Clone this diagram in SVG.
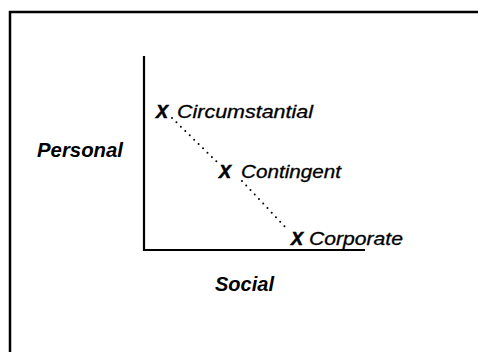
<svg xmlns="http://www.w3.org/2000/svg" width="478" height="352" viewBox="0 0 478 352">
<style>
.frame{fill:none;stroke:#000;stroke-width:2.5}
.axis{fill:none;stroke:#000;stroke-width:2.2}
.dots{fill:none;stroke:#000;stroke-width:2;stroke-linecap:round;stroke-dasharray:0 6.2}
.lbl{font-family:"Liberation Sans",Arial,sans-serif;font-weight:bold;font-style:italic;font-size:20px;fill:#000}
.pt{font-family:"Liberation Sans",Arial,sans-serif;font-style:italic;font-size:18px;fill:#000;stroke:#000;stroke-width:0.3}
.x{font-family:"Liberation Sans",Arial,sans-serif;font-weight:bold;font-style:italic;font-size:18px;fill:#000;stroke:#000;stroke-width:0.6}
</style>
<rect width="478" height="352" fill="#fff"/>
<path class="frame" d="M10,352 V12 H478"/>
<g id="axes">
<path class="axis" d="M144,56 V250 H365"/>
</g>
<g id="connectors">
<line class="dots" x1="172" y1="118" x2="218" y2="163"/>
<line class="dots" x1="242" y1="181" x2="288" y2="230"/>
</g>
<g id="personal"><text class="lbl" x="37" y="157" textLength="86" lengthAdjust="spacingAndGlyphs">Personal</text></g>
<g id="social"><text class="lbl" x="215" y="291" textLength="59" lengthAdjust="spacingAndGlyphs">Social</text></g>
<g id="circumstantial">
<text class="x" x="156" y="118" textLength="12" lengthAdjust="spacingAndGlyphs">X</text>
<text class="pt" x="177" y="118" textLength="136" lengthAdjust="spacingAndGlyphs">Circumstantial</text>
</g>
<g id="contingent">
<text class="x" x="219" y="178" textLength="12" lengthAdjust="spacingAndGlyphs">X</text>
<text class="pt" x="241" y="178" textLength="100" lengthAdjust="spacingAndGlyphs">Contingent</text>
</g>
<g id="corporate">
<text class="x" x="291" y="245" textLength="12" lengthAdjust="spacingAndGlyphs">X</text>
<text class="pt" x="309" y="245" textLength="94" lengthAdjust="spacingAndGlyphs">Corporate</text>
</g>
</svg>
